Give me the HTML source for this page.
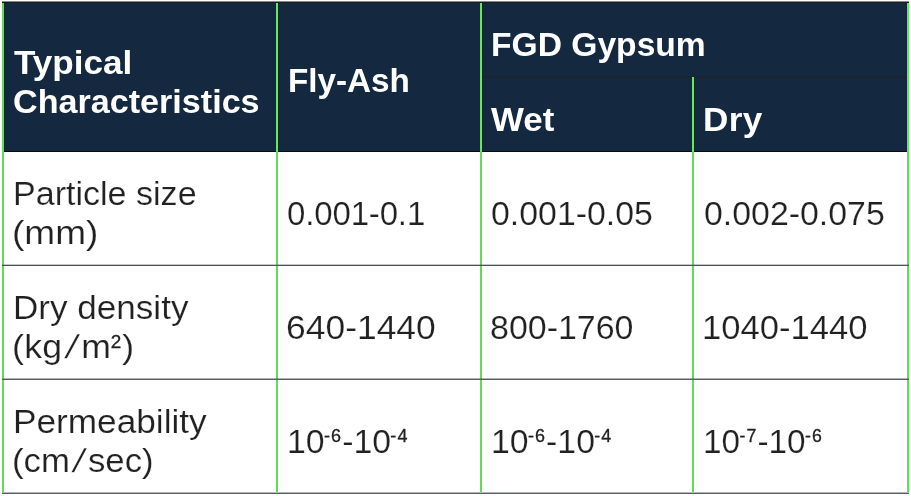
<!DOCTYPE html>
<html lang="en">
<head>
<meta charset="utf-8">
<title>Typical Characteristics: Fly-Ash and FGD Gypsum</title>
<style>
html,body{margin:0;padding:0}
body{width:911px;height:496px;background:#fff;position:relative;overflow:hidden;font-family:"Liberation Sans", "DejaVu Sans", sans-serif;}
.t{position:absolute;white-space:nowrap;line-height:40px;height:40px;margin:0;transform-origin:0 0;will-change:transform}
.h{font-weight:700;font-size:32.5px;color:#fff}
.b{font-weight:400;font-size:33px;color:#212121;-webkit-text-stroke:0.2px #fff}
sup{font-size:17.5px;line-height:0;vertical-align:baseline;position:relative;top:-11.2px;letter-spacing:1.1px;margin-left:-0.7px;-webkit-text-stroke:0.3px #212121}
sup.s2{top:-10.4px}
.sl{display:inline-block;transform:skewX(-13deg);margin:0 4px}
.ln{position:absolute}
</style>
</head>
<body>
<div class="ln" style="left:2px;top:2px;width:907px;height:150px;background:#14293f"></div>
<div class="ln" style="left:2px;top:151px;width:907px;height:1px;background:#0d0a10"></div>
<div class="ln" style="left:482px;top:76px;width:425px;height:2px;background:#182430"></div>
<div class="ln" style="left:2px;top:3px;width:2px;height:149px;background:#60df52"></div>
<div class="ln" style="left:276px;top:3px;width:2px;height:149px;background:#69e75b"></div>
<div class="ln" style="left:480px;top:3px;width:2px;height:149px;background:#69e75b"></div>
<div class="ln" style="left:692px;top:77px;width:2px;height:75px;background:#69e75b"></div>
<div class="ln" style="left:907px;top:3px;width:2px;height:149px;background:#69e75b"></div>
<div class="ln" style="left:2px;top:152px;width:2px;height:340px;background:#60dd52"></div>
<div class="ln" style="left:276px;top:152px;width:2px;height:340px;background:#60dd52"></div>
<div class="ln" style="left:480px;top:152px;width:2px;height:340px;background:#60dd52"></div>
<div class="ln" style="left:692px;top:152px;width:2px;height:340px;background:#60dd52"></div>
<div class="ln" style="left:907px;top:152px;width:2px;height:340px;background:#60dd52"></div>
<div class="ln" style="left:2px;top:1px;width:907px;height:1px;background:#8b8989"></div>
<div class="ln" style="left:2px;top:2px;width:907px;height:1px;background:#1b1a1c"></div>
<div class="ln" style="left:2px;top:264px;width:907px;height:1px;background:rgba(70,74,82,0.32)"></div>
<div class="ln" style="left:2px;top:265px;width:907px;height:1px;background:#4d5157"></div>
<div class="ln" style="left:2px;top:378px;width:907px;height:1px;background:rgba(70,74,82,0.42)"></div>
<div class="ln" style="left:2px;top:379px;width:907px;height:1px;background:#575b61"></div>
<div class="ln" style="left:2px;top:492px;width:907px;height:1px;background:rgba(70,74,82,0.42)"></div>
<div class="ln" style="left:2px;top:493px;width:907px;height:1px;background:#5c6066"></div>

<div class="t h" style="left:14.1px;top:42.5px;letter-spacing:0.0px;transform:scaleX(1.08)">Typical</div>
<div class="t h" style="left:13.4px;top:81.5px;letter-spacing:0.0px;transform:scaleX(1.05)">Characteristics</div>
<div class="t h" style="left:288.0px;top:61.3px;letter-spacing:0.0px;transform:scaleX(1.023)">Fly-Ash</div>
<div class="t h" style="left:491.4px;top:24.8px;letter-spacing:0.0px;transform:scaleX(1.034)">FGD Gypsum</div>
<div class="t h" style="left:491.2px;top:99.8px;letter-spacing:0.0px;transform:scaleX(1.073)">Wet</div>
<div class="t h" style="left:703.3px;top:99.8px;letter-spacing:0.3px;transform:scaleX(1.08)">Dry</div>
<div class="t b" style="left:12.6px;top:173.6px;letter-spacing:0.0px;transform:scaleX(1.032)">Particle size</div>
<div class="t b" style="left:11.6px;top:213.0px;letter-spacing:0.0px;transform:scaleX(1.122)">(mm)</div>
<div class="t b" style="left:287.3px;top:194.0px;letter-spacing:-0.15px;transform:scaleX(1.0)">0.001-0.1</div>
<div class="t b" style="left:491.3px;top:194.0px;letter-spacing:0.0px;transform:scaleX(1.026)">0.001-0.05</div>
<div class="t b" style="left:704.0px;top:194.0px;letter-spacing:0.0px;transform:scaleX(1.026)">0.002-0.075</div>
<div class="t b" style="left:12.5px;top:287.6px;letter-spacing:0.0px;transform:scaleX(1.063)">Dry density</div>
<div class="t b" style="left:11.6px;top:327.0px;letter-spacing:0.3px;transform:scaleX(1.08)">(kg<span class="sl">/</span>m<sup class="s2">2</sup>)</div>
<div class="t b" style="left:286.2px;top:308.0px;letter-spacing:0.0px;transform:scaleX(1.074)">640-1440</div>
<div class="t b" style="left:490.2px;top:308.0px;letter-spacing:0.0px;transform:scaleX(1.029)">800-1760</div>
<div class="t b" style="left:702.3px;top:308.0px;letter-spacing:0.0px;transform:scaleX(1.049)">1040-1440</div>
<div class="t b" style="left:12.5px;top:401.6px;letter-spacing:0.0px;transform:scaleX(1.067)">Permeability</div>
<div class="t b" style="left:11.9px;top:441.0px;letter-spacing:0.0px;transform:scaleX(1.053)">(cm<span class="sl">/</span>sec)</div>
<div class="t b" style="left:286.9px;top:422.0px;letter-spacing:0.0px;transform:scaleX(1.025)">10<sup>-6</sup>-10<sup>-4</sup></div>
<div class="t b" style="left:490.9px;top:422.0px;letter-spacing:0.0px;transform:scaleX(1.024)">10<sup>-6</sup>-10<sup>-4</sup></div>
<div class="t b" style="left:703.0px;top:422.0px;letter-spacing:0.0px;transform:scaleX(1.011)">10<sup>-7</sup>-10<sup>-6</sup></div>
</body>
</html>
